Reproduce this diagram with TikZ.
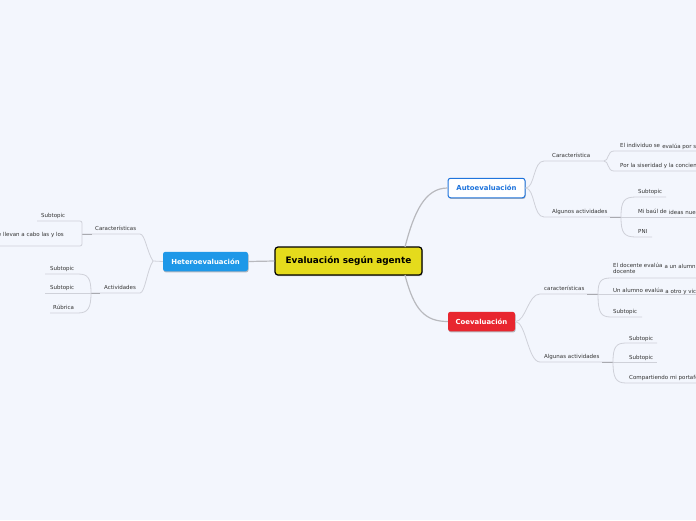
\documentclass[tikz,border=0pt]{standalone}
\usepackage{fontspec}
\setmainfont{DejaVu Sans}
\usetikzlibrary{shadows}
\definecolor{bg}{HTML}{F3F6FD}
\definecolor{rootfill}{HTML}{E5DB1C}
\definecolor{autoblue}{HTML}{1F74DC}
\definecolor{coevred}{HTML}{E8262F}
\definecolor{heteroblue}{HTML}{1E98E8}
\definecolor{linegray}{HTML}{CFD1D9}
\definecolor{maingray}{HTML}{B8B9BE}
\definecolor{seggray}{HTML}{A9AAB0}
\definecolor{txt}{HTML}{333333}
\tikzset{
  boxshadow/.style={drop shadow={shadow xshift=0.6pt,shadow yshift=-1.2pt,opacity=0.25,fill=black}},
  rootbox/.style={draw=black,line width=1.2pt,fill=rootfill,rounded corners=3pt,
    minimum width=147pt,minimum height=28pt,inner sep=0pt,
    font=\fontsize{8.9}{10}\selectfont\bfseries,text=black,boxshadow},
  mainbox/.style={rounded corners=2.5pt,inner sep=0pt,minimum height=19.5pt,
    font=\fontsize{6.9}{8}\selectfont\bfseries,boxshadow},
  lbl/.style={anchor=base west,inner sep=0pt,font=\fontsize{5.5}{6.6}\selectfont,text=txt},
  lblr/.style={anchor=base east,inner sep=0pt,font=\fontsize{5.5}{6.6}\selectfont,text=txt},
  cont/.style={lbl,anchor=base west,xshift=1.8pt,yshift=-1pt},
  ln/.style={draw=linegray,line width=0.8pt},
  mainln/.style={draw=maingray,line width=1.2pt},
  seg/.style={draw=seggray,line width=1pt}
}
\begin{document}
\begin{tikzpicture}[x=1pt,y=-1pt]
\fill[bg] (0,0) rectangle (696,520);
\useasboundingbox (0,0) rectangle (696,520);

% ---------- connectors from root ----------
\coordinate (rt) at (405,247);
\coordinate (rb) at (405,275);

% ---------- Autoevaluacion branch ----------
\coordinate (a1) at (544,161);
\coordinate (a1e) at (604,161);
\coordinate (a2) at (544,217);
\coordinate (a2e) at (621,217);
\coordinate (a11) at (614,151);
\coordinate (a12) at (614,171);
\coordinate (a21) at (636,197);
\coordinate (a23) at (636,237);

% ---------- Coevaluacion branch ----------
\coordinate (c1) at (540,294);
\coordinate (c1e) at (598,294);
\coordinate (c2) at (540,362);
\coordinate (c2e) at (613,362);
\coordinate (c11) at (611,278);
\coordinate (c13) at (611,317);
\coordinate (c21) at (626,343);
\coordinate (c23) at (626,383);

% ---------- Heteroevaluacion branch ----------
\coordinate (h0) at (153,261);
\coordinate (h1) at (140,234);
\coordinate (h1e) at (82,234);
\coordinate (h2) at (140,293);
\coordinate (h2e) at (91,293);
\coordinate (h21) at (78,274);
\coordinate (h23) at (78,313);

% ---------- main boxes ----------
\node[rootbox] (root) at (348.5,261) {Evaluación según agente};
\node[mainbox,draw=autoblue,line width=1pt,fill=white,text=autoblue,minimum width=77pt] (auto) at (486.5,188) {Autoevaluación};
\node[mainbox,fill=coevred,text=white,minimum width=67pt] (coev) at (481.5,321.5) {Coevaluación};
\node[mainbox,fill=heteroblue,text=white,minimum width=85pt] (hetero) at (205.5,261.5) {Heteroevaluación};

% root connectors
\draw[mainln] (rt) .. controls (414,212) and (425,188) .. (auto.west);
\draw[mainln] (rb) .. controls (414,310) and (425,321.5) .. (coev.west);
\draw[mainln] (root.west) -- (hetero.east);

% ---------- Auto lines ----------
\draw[ln] (auto.east) .. controls (535,188) and (533,161) .. (a1) -- (a1e);
\draw[ln] (a1e) .. controls (609,161) and (607,151) .. (a11) -- (700,151);
\draw[ln] (a1e) .. controls (609,161) and (607,171) .. (a12) -- (700,171);
\draw[ln] (auto.east) .. controls (535,188) and (533,217) .. (a2) -- (a2e);
\draw[seg] (610,217) -- (a2e);
\draw[ln] (a2e) .. controls (621,201) and (624,197) .. (a21) -- (666,197);
\draw[ln] (a2e) -- (700,217);
\draw[ln] (a2e) .. controls (621,233) and (624,237) .. (a23) -- (652,237);

\node[lbl] (caract) at (552,157) {Característica};
\node[lbl] (ind1) at (620,147) {El individuo se};
\node[cont] (ind2) at (ind1.base east) {evalúa por s};
\node[lbl] (sinc) at (620,167) {Por la siseridad y la concien};
\node[lbl] (algA) at (552,213) {Algunos actividades};
\node[lbl] (subA) at (638,193) {Subtopic};
\node[lbl] (baul1) at (638,213) {Mi baúl de};
\node[cont] (baul2) at (baul1.base east) {ideas nue};
\node[lbl] (pni) at (638,233) {PNI};

% ---------- Coev lines ----------
\draw[ln] (coev.east) .. controls (526,321.5) and (528,294) .. (c1) -- (c1e);
\draw[seg] (587,294) -- (c1e);
\draw[ln] (c1e) .. controls (598,281) and (601,278) .. (c11) -- (700,278);
\draw[ln] (c1e) -- (700,294);
\draw[ln] (c1e) .. controls (598,313) and (601,317) .. (c13) -- (642,317);
\draw[ln] (coev.east) .. controls (526,321.5) and (528,362) .. (c2) -- (c2e);
\draw[seg] (602,362) -- (c2e);
\draw[ln] (c2e) .. controls (613,347) and (616,343) .. (c21) -- (657,343);
\draw[ln] (c2e) -- (657,362);
\draw[ln] (c2e) .. controls (613,378) and (616,383) .. (c23) -- (700,383);

\node[lbl] (caracC) at (544,290) {características};
\node[lbl] (doc1) at (613,267) {El docente evalúa};
\node[cont] (doc2) at (doc1.base east) {a un alumn};
\node[lbl] (doc3) at (613,273.5) {docente};
\node[lbl] (alu1) at (613,292.5) {Un alumno evalúa};
\node[cont] (alu2) at (alu1.base east) {a otro y vic};
\node[lbl] (subC) at (613,313) {Subtopic};
\node[lbl] (algC) at (544,358) {Algunas actividades};
\node[lbl] (subC1) at (629,340) {Subtopic};
\node[lbl] (subC2) at (629,359) {Subtopic};
\node[lbl] (port) at (629,379) {Compartiendo mi portafo};

% ---------- Hetero lines ----------
\draw[ln] (hetero.west) -- (h0);
\draw[ln] (h0) .. controls (147,252) and (145,234) .. (h1) -- (h1e);
\draw[seg] (92,234) -- (h1e);
\draw[ln,rounded corners=2pt] (37,221) -- (82,221) -- (h1e) -- (82,246) -- (-5,246);
\draw[ln] (h0) .. controls (147,270) and (145,293) .. (h2) -- (h2e);
\draw[seg] (100,293) -- (h2e);
\draw[ln] (h2e) .. controls (91,278) and (88,274) .. (h21) -- (45,274);
\draw[ln] (h2e) -- (45,293);
\draw[ln] (h2e) .. controls (91,308) and (88,313) .. (h23) -- (50,313);

\node[lbl] (caracH) at (95,230) {Características};
\node[lbl] (subH) at (41,217) {Subtopic};
\node[lblr] (llev) at (64,236) {e llevan a cabo las y los};
\node[lbl] (actH) at (104,289) {Actividades};
\node[lbl] (subH1) at (50,270) {Subtopic};
\node[lbl] (subH2) at (50,289) {Subtopic};
\node[lbl] (rub) at (53,309) {Rúbrica};
\end{tikzpicture}
\end{document}
